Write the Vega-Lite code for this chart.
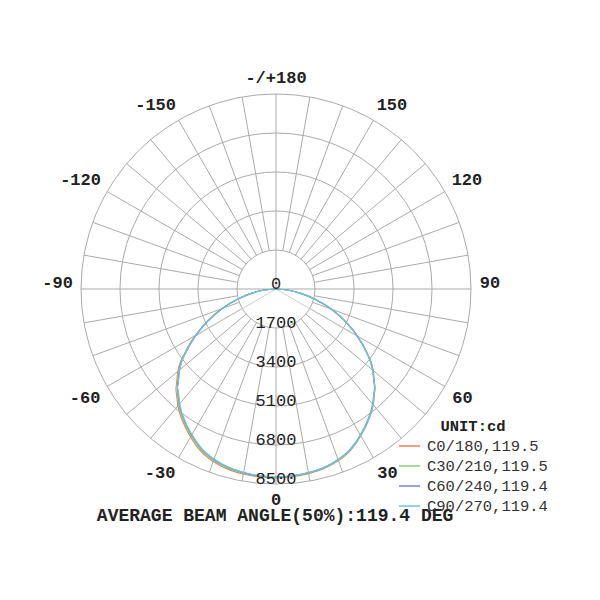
{
  "$schema": "https://vega.github.io/schema/vega-lite/v6.json",
  "width": 600,
  "height": 600,
  "autosize": {"type": "fit", "contains": "padding"},
  "padding": 0,
  "background": "white",
  "config": {"view": {"stroke": null}},
  "datasets": {
    "rings": [{"r": 1700}, {"r": 3400}, {"r": 5100}, {"r": 6800}, {"r": 8500}],
    "spokes": [
      {"a": 0, "r0": 1700}, {"a": 10, "r0": 1700}, {"a": 20, "r0": 1700}, {"a": 30, "r0": 1700},
      {"a": 40, "r0": 1700}, {"a": 50, "r0": 1700}, {"a": 60, "r0": 1700}, {"a": 70, "r0": 1700},
      {"a": 80, "r0": 1700}, {"a": 90, "r0": 0}, {"a": 100, "r0": 1700}, {"a": 110, "r0": 1700},
      {"a": 120, "r0": 1700}, {"a": 130, "r0": 1700}, {"a": 140, "r0": 1700}, {"a": 150, "r0": 1700},
      {"a": 160, "r0": 1700}, {"a": 170, "r0": 1700}, {"a": 180, "r0": 0}, {"a": 190, "r0": 1700},
      {"a": 200, "r0": 1700}, {"a": 210, "r0": 1700}, {"a": 220, "r0": 1700}, {"a": 230, "r0": 1700},
      {"a": 240, "r0": 1700}, {"a": 250, "r0": 1700}, {"a": 260, "r0": 1700}, {"a": 270, "r0": 0},
      {"a": 280, "r0": 1700}, {"a": 290, "r0": 1700}, {"a": 300, "r0": 1700}, {"a": 310, "r0": 1700},
      {"a": 320, "r0": 1700}, {"a": 330, "r0": 1700}, {"a": 340, "r0": 1700}, {"a": 350, "r0": 1700}
    ],
    "beam": [{"a": -59.7, "r": 4100}, {"a": 59.7, "r": 4100}],
    "ringlabels": [
      {"r": 0, "t": "0"}, {"r": 1700, "t": "1700"}, {"r": 3400, "t": "3400"},
      {"r": 5100, "t": "5100"}, {"r": 6800, "t": "6800"}, {"r": 8500, "t": "8500"}
    ],
    "anglelabels": [
      {"a": 0, "t": "0"}, {"a": 30, "t": "30"}, {"a": 60, "t": "60"}, {"a": 90, "t": "90"},
      {"a": 120, "t": "120"}, {"a": 150, "t": "150"}, {"a": 180, "t": "-/+180"},
      {"a": -150, "t": "-150"}, {"a": -120, "t": "-120"}, {"a": -90, "t": "-90"},
      {"a": -60, "t": "-60"}, {"a": -30, "t": "-30"}
    ],
    "curves": [
      {"s": "C0/180,119.5", "a": -90, "v": 0}, {"s": "C0/180,119.5", "a": -85, "v": 500},
      {"s": "C0/180,119.5", "a": -80, "v": 1100}, {"s": "C0/180,119.5", "a": -75, "v": 1760},
      {"s": "C0/180,119.5", "a": -70, "v": 2520}, {"s": "C0/180,119.5", "a": -65, "v": 3280},
      {"s": "C0/180,119.5", "a": -60, "v": 4060}, {"s": "C0/180,119.5", "a": -55, "v": 4840},
      {"s": "C0/180,119.5", "a": -50, "v": 5580}, {"s": "C0/180,119.5", "a": -45, "v": 6190},
      {"s": "C0/180,119.5", "a": -40, "v": 6650}, {"s": "C0/180,119.5", "a": -35, "v": 7070},
      {"s": "C0/180,119.5", "a": -30, "v": 7450}, {"s": "C0/180,119.5", "a": -25, "v": 7790},
      {"s": "C0/180,119.5", "a": -20, "v": 8000}, {"s": "C0/180,119.5", "a": -15, "v": 8130},
      {"s": "C0/180,119.5", "a": -10, "v": 8190}, {"s": "C0/180,119.5", "a": -5, "v": 8220},
      {"s": "C0/180,119.5", "a": 0, "v": 8220}, {"s": "C0/180,119.5", "a": 5, "v": 8210},
      {"s": "C0/180,119.5", "a": 10, "v": 8170}, {"s": "C0/180,119.5", "a": 15, "v": 8100},
      {"s": "C0/180,119.5", "a": 20, "v": 7960}, {"s": "C0/180,119.5", "a": 25, "v": 7740},
      {"s": "C0/180,119.5", "a": 30, "v": 7390}, {"s": "C0/180,119.5", "a": 35, "v": 7010},
      {"s": "C0/180,119.5", "a": 40, "v": 6590}, {"s": "C0/180,119.5", "a": 45, "v": 6130},
      {"s": "C0/180,119.5", "a": 50, "v": 5530}, {"s": "C0/180,119.5", "a": 55, "v": 4830},
      {"s": "C0/180,119.5", "a": 60, "v": 4090}, {"s": "C0/180,119.5", "a": 65, "v": 3330},
      {"s": "C0/180,119.5", "a": 70, "v": 2570}, {"s": "C0/180,119.5", "a": 75, "v": 1790},
      {"s": "C0/180,119.5", "a": 80, "v": 1100}, {"s": "C0/180,119.5", "a": 85, "v": 500},
      {"s": "C0/180,119.5", "a": 90, "v": 0},

      {"s": "C30/210,119.5", "a": -90, "v": 0}, {"s": "C30/210,119.5", "a": -85, "v": 500},
      {"s": "C30/210,119.5", "a": -80, "v": 1100}, {"s": "C30/210,119.5", "a": -75, "v": 1750},
      {"s": "C30/210,119.5", "a": -70, "v": 2510}, {"s": "C30/210,119.5", "a": -65, "v": 3270},
      {"s": "C30/210,119.5", "a": -60, "v": 4040}, {"s": "C30/210,119.5", "a": -55, "v": 4810},
      {"s": "C30/210,119.5", "a": -50, "v": 5530}, {"s": "C30/210,119.5", "a": -45, "v": 6140},
      {"s": "C30/210,119.5", "a": -40, "v": 6600}, {"s": "C30/210,119.5", "a": -35, "v": 7020},
      {"s": "C30/210,119.5", "a": -30, "v": 7400}, {"s": "C30/210,119.5", "a": -25, "v": 7740},
      {"s": "C30/210,119.5", "a": -20, "v": 7960}, {"s": "C30/210,119.5", "a": -15, "v": 8090},
      {"s": "C30/210,119.5", "a": -10, "v": 8160}, {"s": "C30/210,119.5", "a": -5, "v": 8200},
      {"s": "C30/210,119.5", "a": 0, "v": 8200}, {"s": "C30/210,119.5", "a": 5, "v": 8190},
      {"s": "C30/210,119.5", "a": 10, "v": 8150}, {"s": "C30/210,119.5", "a": 15, "v": 8080},
      {"s": "C30/210,119.5", "a": 20, "v": 7940}, {"s": "C30/210,119.5", "a": 25, "v": 7720},
      {"s": "C30/210,119.5", "a": 30, "v": 7380}, {"s": "C30/210,119.5", "a": 35, "v": 7000},
      {"s": "C30/210,119.5", "a": 40, "v": 6580}, {"s": "C30/210,119.5", "a": 45, "v": 6120},
      {"s": "C30/210,119.5", "a": 50, "v": 5520}, {"s": "C30/210,119.5", "a": 55, "v": 4820},
      {"s": "C30/210,119.5", "a": 60, "v": 4080}, {"s": "C30/210,119.5", "a": 65, "v": 3320},
      {"s": "C30/210,119.5", "a": 70, "v": 2560}, {"s": "C30/210,119.5", "a": 75, "v": 1780},
      {"s": "C30/210,119.5", "a": 80, "v": 1100}, {"s": "C30/210,119.5", "a": 85, "v": 500},
      {"s": "C30/210,119.5", "a": 90, "v": 0},

      {"s": "C60/240,119.4", "a": -90, "v": 0}, {"s": "C60/240,119.4", "a": -85, "v": 500},
      {"s": "C60/240,119.4", "a": -80, "v": 1090}, {"s": "C60/240,119.4", "a": -75, "v": 1740},
      {"s": "C60/240,119.4", "a": -70, "v": 2490}, {"s": "C60/240,119.4", "a": -65, "v": 3250},
      {"s": "C60/240,119.4", "a": -60, "v": 4010}, {"s": "C60/240,119.4", "a": -55, "v": 4780},
      {"s": "C60/240,119.4", "a": -50, "v": 5490}, {"s": "C60/240,119.4", "a": -45, "v": 6090},
      {"s": "C60/240,119.4", "a": -40, "v": 6550}, {"s": "C60/240,119.4", "a": -35, "v": 6970},
      {"s": "C60/240,119.4", "a": -30, "v": 7350}, {"s": "C60/240,119.4", "a": -25, "v": 7690},
      {"s": "C60/240,119.4", "a": -20, "v": 7910}, {"s": "C60/240,119.4", "a": -15, "v": 8050},
      {"s": "C60/240,119.4", "a": -10, "v": 8130}, {"s": "C60/240,119.4", "a": -5, "v": 8180},
      {"s": "C60/240,119.4", "a": 0, "v": 8190}, {"s": "C60/240,119.4", "a": 5, "v": 8180},
      {"s": "C60/240,119.4", "a": 10, "v": 8130}, {"s": "C60/240,119.4", "a": 15, "v": 8060},
      {"s": "C60/240,119.4", "a": 20, "v": 7910}, {"s": "C60/240,119.4", "a": 25, "v": 7690},
      {"s": "C60/240,119.4", "a": 30, "v": 7350}, {"s": "C60/240,119.4", "a": 35, "v": 6970},
      {"s": "C60/240,119.4", "a": 40, "v": 6550}, {"s": "C60/240,119.4", "a": 45, "v": 6100},
      {"s": "C60/240,119.4", "a": 50, "v": 5500}, {"s": "C60/240,119.4", "a": 55, "v": 4810},
      {"s": "C60/240,119.4", "a": 60, "v": 4070}, {"s": "C60/240,119.4", "a": 65, "v": 3320},
      {"s": "C60/240,119.4", "a": 70, "v": 2560}, {"s": "C60/240,119.4", "a": 75, "v": 1780},
      {"s": "C60/240,119.4", "a": 80, "v": 1100}, {"s": "C60/240,119.4", "a": 85, "v": 500},
      {"s": "C60/240,119.4", "a": 90, "v": 0},

      {"s": "C90/270,119.4", "a": -90, "v": 0}, {"s": "C90/270,119.4", "a": -85, "v": 500},
      {"s": "C90/270,119.4", "a": -80, "v": 1090}, {"s": "C90/270,119.4", "a": -75, "v": 1740},
      {"s": "C90/270,119.4", "a": -70, "v": 2500}, {"s": "C90/270,119.4", "a": -65, "v": 3260},
      {"s": "C90/270,119.4", "a": -60, "v": 4030}, {"s": "C90/270,119.4", "a": -55, "v": 4790},
      {"s": "C90/270,119.4", "a": -50, "v": 5480}, {"s": "C90/270,119.4", "a": -45, "v": 6070},
      {"s": "C90/270,119.4", "a": -40, "v": 6530}, {"s": "C90/270,119.4", "a": -35, "v": 6950},
      {"s": "C90/270,119.4", "a": -30, "v": 7330}, {"s": "C90/270,119.4", "a": -25, "v": 7670},
      {"s": "C90/270,119.4", "a": -20, "v": 7890}, {"s": "C90/270,119.4", "a": -15, "v": 8040},
      {"s": "C90/270,119.4", "a": -10, "v": 8120}, {"s": "C90/270,119.4", "a": -5, "v": 8170},
      {"s": "C90/270,119.4", "a": 0, "v": 8180}, {"s": "C90/270,119.4", "a": 5, "v": 8170},
      {"s": "C90/270,119.4", "a": 10, "v": 8130}, {"s": "C90/270,119.4", "a": 15, "v": 8060},
      {"s": "C90/270,119.4", "a": 20, "v": 7920}, {"s": "C90/270,119.4", "a": 25, "v": 7700},
      {"s": "C90/270,119.4", "a": 30, "v": 7360}, {"s": "C90/270,119.4", "a": 35, "v": 6990},
      {"s": "C90/270,119.4", "a": 40, "v": 6570}, {"s": "C90/270,119.4", "a": 45, "v": 6110},
      {"s": "C90/270,119.4", "a": 50, "v": 5510}, {"s": "C90/270,119.4", "a": 55, "v": 4820},
      {"s": "C90/270,119.4", "a": 60, "v": 4080}, {"s": "C90/270,119.4", "a": 65, "v": 3330},
      {"s": "C90/270,119.4", "a": 70, "v": 2580}, {"s": "C90/270,119.4", "a": 75, "v": 1800},
      {"s": "C90/270,119.4", "a": 80, "v": 1110}, {"s": "C90/270,119.4", "a": 85, "v": 500},
      {"s": "C90/270,119.4", "a": 90, "v": 0}
    ]
  },
  "layer": [
    {
      "data": {"name": "rings"},
      "transform": [{"calculate": "0", "as": "cx"}, {"calculate": "0", "as": "cy"}],
      "mark": {"type": "point", "shape": "circle", "filled": false, "stroke": "#ababab", "strokeWidth": 1, "opacity": 1},
      "encoding": {
        "x": {"field": "cx", "type": "quantitative", "scale": {"domain": [-12031, 14123], "nice": false, "zero": false}, "axis": null},
        "y": {"field": "cy", "type": "quantitative", "scale": {"domain": [-13556, 12597], "nice": false, "zero": false}, "axis": null},
        "size": {"field": "r", "type": "quantitative", "scale": {"type": "pow", "exponent": 2, "domain": [0, 8500], "range": [0, 152100], "zero": true}, "legend": null}
      }
    },
    {
      "data": {"name": "spokes"},
      "transform": [
        {"calculate": "datum.r0 * sin(datum.a * PI / 180)", "as": "x0"},
        {"calculate": "-datum.r0 * cos(datum.a * PI / 180)", "as": "y0"},
        {"calculate": "8500 * sin(datum.a * PI / 180)", "as": "x1"},
        {"calculate": "-8500 * cos(datum.a * PI / 180)", "as": "y1"}
      ],
      "mark": {"type": "rule", "color": "#ababab", "strokeWidth": 1},
      "encoding": {
        "x": {"field": "x0", "type": "quantitative", "scale": {"domain": [-12031, 14123], "nice": false, "zero": false}, "axis": null},
        "y": {"field": "y0", "type": "quantitative", "scale": {"domain": [-13556, 12597], "nice": false, "zero": false}, "axis": null},
        "x2": {"field": "x1"},
        "y2": {"field": "y1"}
      }
    },
    {
      "data": {"name": "beam"},
      "transform": [
        {"calculate": "0", "as": "x0"},
        {"calculate": "0", "as": "y0"},
        {"calculate": "datum.r * sin(datum.a * PI / 180)", "as": "x1"},
        {"calculate": "-datum.r * cos(datum.a * PI / 180)", "as": "y1"}
      ],
      "mark": {"type": "rule", "color": "#cfcfcf", "strokeWidth": 1},
      "encoding": {
        "x": {"field": "x0", "type": "quantitative", "scale": {"domain": [-12031, 14123], "nice": false, "zero": false}, "axis": null},
        "y": {"field": "y0", "type": "quantitative", "scale": {"domain": [-13556, 12597], "nice": false, "zero": false}, "axis": null},
        "x2": {"field": "x1"},
        "y2": {"field": "y1"}
      }
    },
    {
      "data": {"name": "curves"},
      "transform": [
        {"calculate": "datum.v * sin(datum.a * PI / 180)", "as": "x"},
        {"calculate": "-datum.v * cos(datum.a * PI / 180)", "as": "y"}
      ],
      "mark": {"type": "line", "strokeWidth": 1.2, "interpolate": "monotone"},
      "encoding": {
        "x": {"field": "x", "type": "quantitative", "scale": {"domain": [-12031, 14123], "nice": false, "zero": false}, "axis": null},
        "y": {"field": "y", "type": "quantitative", "scale": {"domain": [-13556, 12597], "nice": false, "zero": false}, "axis": null},
        "order": {"field": "a", "type": "quantitative"},
        "color": {
          "field": "s",
          "type": "nominal",
          "scale": {
            "domain": ["C0/180,119.5", "C30/210,119.5", "C60/240,119.4", "C90/270,119.4"],
            "range": ["#f27c52", "#8fce7c", "#7b84d4", "#6cc6dc"]
          },
          "legend": {
            "orient": "none",
            "legendX": 398,
            "legendY": 419,
            "title": "UNIT:cd",
            "titleFont": "Liberation Mono",
            "titleFontSize": 15.5,
            "titleFontWeight": "bold",
            "titleColor": "#222222",
            "titleAnchor": "middle",
            "titlePadding": 0,
            "labelFont": "Liberation Mono",
            "labelFontSize": 15.5,
            "labelColor": "#333333",
            "labelOffset": 6,
            "symbolType": "stroke",
            "symbolSize": 441,
            "symbolStrokeWidth": 1.5,
            "rowPadding": -1
          }
        }
      }
    },
    {
      "data": {"name": "ringlabels"},
      "transform": [{"calculate": "0", "as": "x"}, {"calculate": "-datum.r", "as": "y"}],
      "mark": {"type": "text", "font": "Liberation Mono", "fontSize": 17, "color": "#222222", "align": "center", "baseline": "alphabetic"},
      "encoding": {
        "x": {"field": "x", "type": "quantitative", "scale": {"domain": [-12031, 14123], "nice": false, "zero": false}, "axis": null},
        "y": {"field": "y", "type": "quantitative", "scale": {"domain": [-13556, 12597], "nice": false, "zero": false}, "axis": null},
        "text": {"field": "t", "type": "nominal"}
      }
    },
    {
      "data": {"name": "anglelabels"},
      "transform": [
        {"calculate": "sin(datum.a * PI / 180)", "as": "sn"},
        {"calculate": "cos(datum.a * PI / 180)", "as": "cs"},
        {"calculate": "8936 * datum.sn + (abs(datum.sn) > 0.001 ? (datum.sn > 0 ? 1 : -1) * length(datum.t) * 195 : 0)", "as": "x"},
        {"calculate": "-8936 * datum.cs + (datum.cs > 0.001 ? -262 : 262)", "as": "y"}
      ],
      "mark": {"type": "text", "font": "Liberation Mono", "fontSize": 17, "fontWeight": "bold", "color": "#222222", "align": "center", "baseline": "middle", "dy": 0},
      "encoding": {
        "x": {"field": "x", "type": "quantitative", "scale": {"domain": [-12031, 14123], "nice": false, "zero": false}, "axis": null},
        "y": {"field": "y", "type": "quantitative", "scale": {"domain": [-13556, 12597], "nice": false, "zero": false}, "axis": null},
        "text": {"field": "t", "type": "nominal"}
      }
    },
    {
      "data": {"values": [{"t": "AVERAGE BEAM ANGLE(50%):119.4 DEG", "r": 9890}]},
      "transform": [{"calculate": "-40", "as": "x"}, {"calculate": "-datum.r", "as": "y"}],
      "mark": {"type": "text", "font": "Liberation Mono", "fontSize": 18, "fontWeight": "bold", "color": "#222222", "align": "center", "baseline": "middle"},
      "encoding": {
        "x": {"field": "x", "type": "quantitative", "scale": {"domain": [-12031, 14123], "nice": false, "zero": false}, "axis": null},
        "y": {"field": "y", "type": "quantitative", "scale": {"domain": [-13556, 12597], "nice": false, "zero": false}, "axis": null},
        "text": {"field": "t", "type": "nominal"}
      }
    }
  ]
}
